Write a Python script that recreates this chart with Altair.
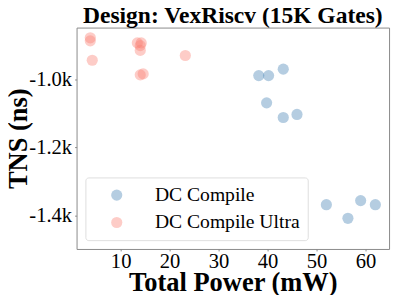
import altair as alt
import pandas as pd

# Data
dc_x = [38.2, 40.2, 43.2, 39.8, 43.2, 46.0, 52.0, 59.0, 62.0, 56.4]
dc_y = [-989, -989, -970, -1069, -1112, -1103, -1368, -1356, -1368, -1408]
ultra_x = [3.8, 3.8, 4.2, 13.4, 14.2, 14.0, 14.0, 14.0, 14.6, 23.2]
ultra_y = [-878, -887, -944, -893, -893, -901, -915, -987, -984, -930]

series = ["DC Compile", "DC Compile Ultra"]
colors = ["#4682b4", "#fa8072"]
x_ticks = [10, 20, 30, 40, 50, 60]
y_ticks = [-1400, -1200, -1000]

df = pd.DataFrame({
    "power": dc_x + ultra_x,
    "tns": dc_y + ultra_y,
    "method": [series[0]] * len(dc_x) + [series[1]] * len(ultra_x),
})

FONT = "Liberation Serif"

chart = alt.Chart(df).mark_circle(size=130, opacity=0.4).encode(
    x=alt.X("power:Q", title="Total Power (mW)",
            scale=alt.Scale(domain=[1, 64.8], nice=False, zero=False),
            axis=alt.Axis(values=x_ticks, grid=False, domain=False, tickSize=2,
                          tickColor="#888", labelPadding=0, labelFontSize=21,
                          labelFont=FONT, labelColor="black", titleFont=FONT,
                          titleFontSize=27, titleFontWeight="bold", titleColor="black",
                          titleBaseline="alphabetic", titleY=42)),
    y=alt.Y("tns:Q", title="TNS (ns)",
            scale=alt.Scale(domain=[-1498, -848], nice=False, zero=False),
            axis=alt.Axis(values=y_ticks, grid=False, domain=False, tickSize=2,
                          tickColor="#888", labelPadding=3, labelFontSize=21,
                          labelFont=FONT, labelColor="black",
                          labelExpr="'-' + format(-datum.value/1000, '.1f') + 'k'",
                          titleFont=FONT, titleFontSize=27, titleFontWeight="bold",
                          titleColor="black", titleBaseline="alphabetic", titleX=-51)),
    color=alt.Color("method:N", scale=alt.Scale(domain=series, range=colors),
                    legend=alt.Legend(title=None, orient="none", legendX=9, legendY=153,
                                      labelFont=FONT, labelFontSize=20, labelColor="black",
                                      labelLimit=0,
                                      symbolSize=130, symbolOpacity=0.4, symbolType="circle",
                                      symbolStrokeWidth=0, padding=8, rowPadding=8,
                                      symbolOffset=14, labelOffset=29,
                                      fillColor="white", strokeColor="#ddd",
                                      cornerRadius=3)),
).properties(
    width=319, height=226,
    title=alt.TitleParams("Design: VexRiscv (15K Gates)", font=FONT, fontSize=24,
                          fontWeight="bold", color="black", offset=0, anchor="middle"),
    autosize=alt.AutoSizeParams(type="none"),
    padding={"left": 70, "top": 17, "right": 3, "bottom": 44},
).configure_view(stroke="#888", strokeWidth=1)

chart.save("out.html", embed_options={"renderer": "svg", "actions": False})
